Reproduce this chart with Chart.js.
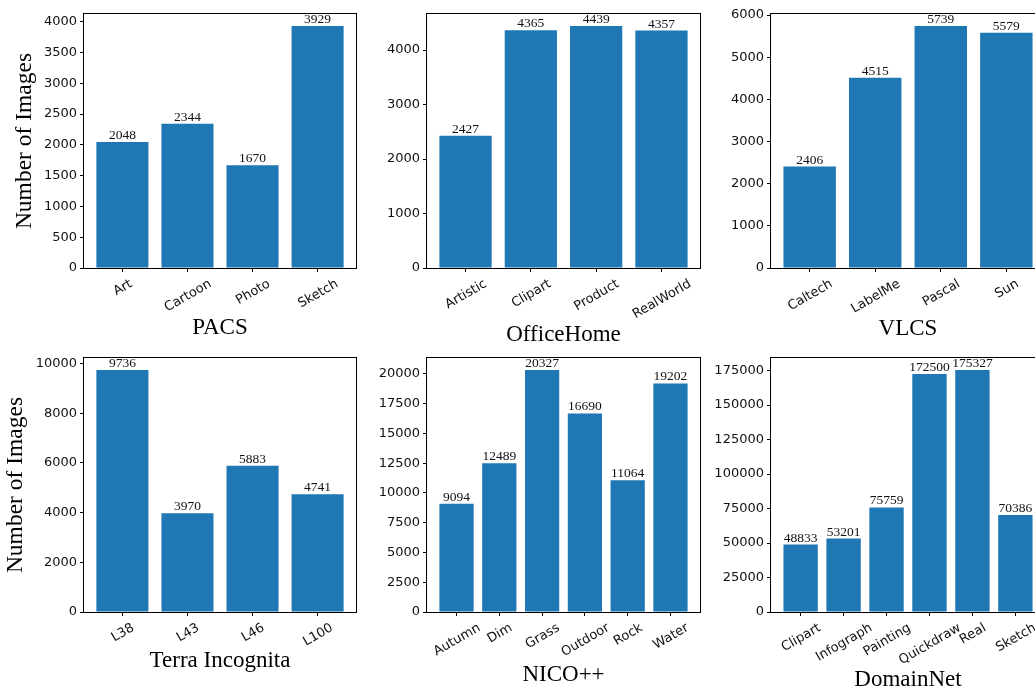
<!DOCTYPE html>
<html>
<head>
<meta charset="utf-8">
<script src="https://cdn.jsdelivr.net/npm/chart.js@4.4.1/dist/chart.umd.min.js"></script>
<style>
  html, body { margin: 0; padding: 0; background: #fff; }
  body { width: 1035px; height: 689px; overflow: hidden; position: relative; }
  canvas { position: absolute; }
</style>
</head>
<body>
<canvas id="pacs" width="365" height="345" style="left:0px;top:0px"></canvas>
<canvas id="officehome" width="345" height="345" style="left:365px;top:0px"></canvas>
<canvas id="vlcs" width="345" height="345" style="left:710px;top:0px"></canvas>
<canvas id="terra" width="365" height="344" style="left:0px;top:345px"></canvas>
<canvas id="nico" width="345" height="344" style="left:365px;top:345px"></canvas>
<canvas id="domainnet" width="345" height="344" style="left:710px;top:345px"></canvas>
<script>
// Image counts per domain for each benchmark
const pacsDomains = ['Art', 'Cartoon', 'Photo', 'Sketch'];
const pacsCounts = [2048, 2344, 1670, 3929];

const officeHomeDomains = ['Artistic', 'Clipart', 'Product', 'RealWorld'];
const officeHomeCounts = [2427, 4365, 4439, 4357];

const vlcsDomains = ['Caltech', 'LabelMe', 'Pascal', 'Sun'];
const vlcsCounts = [2406, 4515, 5739, 5579];

const terraDomains = ['L38', 'L43', 'L46', 'L100'];
const terraCounts = [9736, 3970, 5883, 4741];

const nicoDomains = ['Autumn', 'Dim', 'Grass', 'Outdoor', 'Rock', 'Water'];
const nicoCounts = [9094, 12489, 20327, 16690, 11064, 19202];

const domainNetDomains = ['Clipart', 'Infograph', 'Painting', 'Quickdraw', 'Real', 'Sketch'];
const domainNetCounts = [48833, 53201, 75759, 172500, 175327, 70386];

// y-axis tick spacing per panel
const pacsStep = 500;
const officeHomeStep = 1000;
const vlcsStep = 1000;
const terraStep = 2000;
const nicoStep = 2500;
const domainNetStep = 25000;

const BAR_BLUE = '#1f77b4';
const INK = '#111';
const SANS = '"DejaVu Sans", sans-serif';
const SERIF = '"Liberation Serif", "Times New Roman", serif';
const TICK_SIZE = 13;

// Frame, value labels, rotated category labels and axis titles
const panelDecor = {
  id: 'panelDecor',
  afterDraw(chart, args, opts) {
    const { ctx, chartArea: a, scales: { x } } = chart;
    const meta = chart.getDatasetMeta(0);
    const points = chart.data.datasets[0].data;
    ctx.save();

    // axes box
    ctx.strokeStyle = '#000';
    ctx.lineWidth = 1;
    ctx.strokeRect(a.left - 0.5, a.top - 0.5, a.right - a.left + 1, a.bottom - a.top + 1);

    // value above each bar
    ctx.fillStyle = INK;
    ctx.font = '13.5px ' + SERIF;
    ctx.textAlign = 'center';
    ctx.textBaseline = 'alphabetic';
    meta.data.forEach((bar, i) => {
      ctx.fillText(String(points[i].y), bar.x, bar.y - 3);
    });

    // category labels, rotated 30 degrees and centred under each tick
    const ang = Math.PI / 6;
    ctx.font = TICK_SIZE + 'px ' + SANS;
    const h = TICK_SIZE * 1.164;
    opts.labels.forEach((lab, i) => {
      const px = x.getPixelForValue(i);
      const w = ctx.measureText(lab).width;
      const bh = w * Math.sin(ang) + h * Math.cos(ang);
      const cy = a.bottom + 4 + 3.5 + bh / 2;
      ctx.save();
      ctx.translate(px, cy);
      ctx.rotate(-ang);
      ctx.textAlign = 'center';
      ctx.textBaseline = 'alphabetic';
      ctx.fillText(lab, 0, TICK_SIZE * 0.346);
      ctx.restore();
    });

    // dataset name under the axis
    ctx.fillStyle = '#000';
    ctx.font = '23px ' + SERIF;
    ctx.textAlign = 'center';
    ctx.textBaseline = 'alphabetic';
    ctx.fillText(opts.title, (a.left + a.right) / 2, opts.titleBaseline);

    // y-axis title on the left column
    if (opts.yTitleX) {
      ctx.save();
      ctx.translate(opts.yTitleX, (a.top + a.bottom) / 2);
      ctx.rotate(-Math.PI / 2);
      ctx.font = '23.5px ' + SERIF;
      ctx.textAlign = 'center';
      ctx.textBaseline = 'alphabetic';
      ctx.fillText('Number of Images', 0, 0);
      ctx.restore();
    }
    ctx.restore();
  }
};

function makePanel(id, labels, values, step, title, area, titleBaseline, yTitleX) {
  const canvas = document.getElementById(id);
  const W = canvas.width, H = canvas.height;
  const n = labels.length;
  const margin = 0.05 * (n - 0.2);
  new Chart(canvas, {
    type: 'bar',
    data: {
      datasets: [{
        data: values.map((v, i) => ({ x: i, y: v })),
        backgroundColor: BAR_BLUE,
        borderWidth: 0,
        barPercentage: 0.8,
        categoryPercentage: 1
      }]
    },
    options: {
      responsive: false,
      animation: false,
      devicePixelRatio: 1,
      layout: { padding: { left: 0, top: area.top, right: W - area.right, bottom: 0 } },
      plugins: {
        legend: { display: false },
        tooltip: { enabled: false },
        panelDecor: { labels, title, titleBaseline, yTitleX }
      },
      scales: {
        x: {
          type: 'linear',
          offset: false,
          min: -0.4 - margin,
          max: n - 0.6 + margin,
          border: { display: false },
          grid: { offset: false, drawOnChartArea: false, drawTicks: true, tickLength: 4, color: '#000', lineWidth: 1 },
          ticks: { display: false },
          afterBuildTicks: s => { s.ticks = labels.map((_, i) => ({ value: i })); },
          afterFit: s => { s.height = H - area.bottom; }
        },
        y: {
          min: 0,
          max: Math.max(...values) * 1.05,
          border: { display: false },
          grid: { drawOnChartArea: false, drawTicks: true, tickLength: 4, color: '#000', lineWidth: 1 },
          ticks: {
            padding: 3,
            color: INK,
            font: { family: SANS, size: TICK_SIZE },
            callback: v => String(v)
          },
          afterBuildTicks: s => {
            const t = [];
            for (let v = 0; v <= s.max; v += step) t.push({ value: v });
            s.ticks = t;
          },
          afterFit: s => { s.width = area.left; }
        }
      }
    },
    plugins: [panelDecor]
  });
}

const leftTop = { left: 84, top: 14, right: 356, bottom: 268 };
const midTop = { left: 62, top: 14, right: 335, bottom: 268 };
const rightTop = { left: 61, top: 14, right: 335, bottom: 268 };
const leftBottom = { left: 84, top: 13, right: 356, bottom: 267 };
const midBottom = { left: 62, top: 13, right: 335, bottom: 267 };
const rightBottom = { left: 61, top: 13, right: 335, bottom: 267 };

makePanel('pacs', pacsDomains, pacsCounts, pacsStep, 'PACS', leftTop, 334, 31);
makePanel('officehome', officeHomeDomains, officeHomeCounts, officeHomeStep, 'OfficeHome', midTop, 341, null);
makePanel('vlcs', vlcsDomains, vlcsCounts, vlcsStep, 'VLCS', rightTop, 335, null);
makePanel('terra', terraDomains, terraCounts, terraStep, 'Terra Incognita', leftBottom, 322, 22);
makePanel('nico', nicoDomains, nicoCounts, nicoStep, 'NICO++', midBottom, 336, null);
makePanel('domainnet', domainNetDomains, domainNetCounts, domainNetStep, 'DomainNet', rightBottom, 341, null);
</script>
</body>
</html>
